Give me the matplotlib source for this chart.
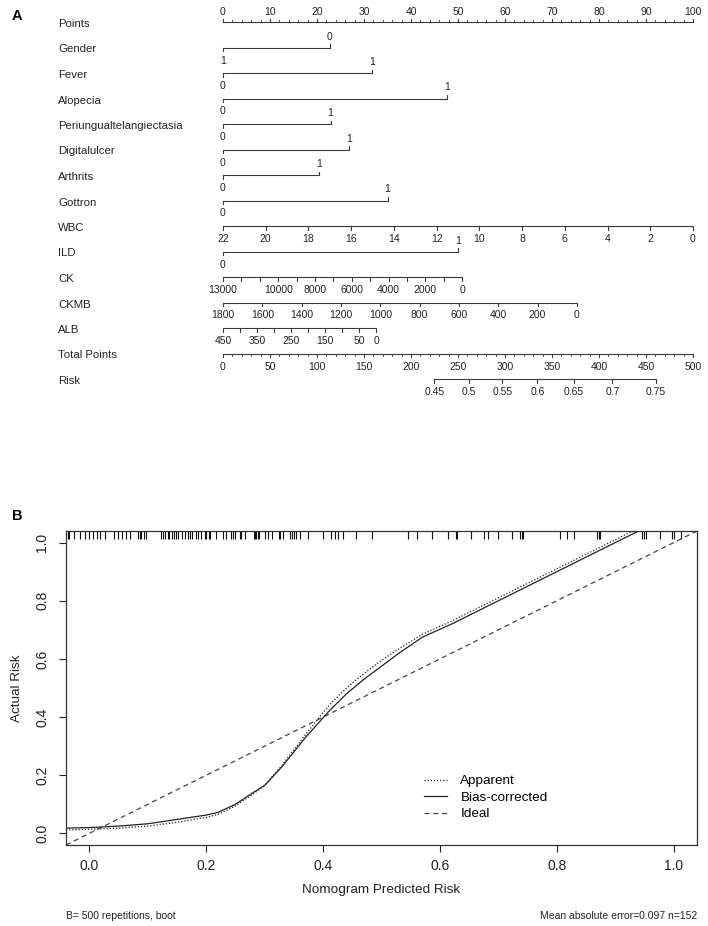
import numpy as np
import matplotlib
matplotlib.use("Agg")
from matplotlib import pyplot as plt
from matplotlib.transforms import blended_transform_factory

plt.rcParams['font.family'] = ['Liberation Sans', 'DejaVu Sans']

# ---------------- nomogram data (A) ----------------
point_ticks = np.arange(0, 101, 10)
point_minor = np.arange(0, 101, 2)

# binary predictors: (name, left level, right level, points of right level)
binary_vars = [
    ("Gender", "1", "0", 22.7),
    ("Fever", "0", "1", 31.8),
    ("Alopecia", "0", "1", 47.6),
    ("Periungualtelangiectasia", "0", "1", 22.9),
    ("Digitalulcer", "0", "1", 26.8),
    ("Arthrits", "0", "1", 20.4),
    ("Gottron", "0", "1", 35.0),
]

wbc_ticks = np.arange(22, -1, -2)
wbc_range = [22, 0]          # value giving 0 points, value giving max points
wbc_max_points = 100.0

ild_points = 50.1

ck_ticks = np.arange(13000, -1, -1000)
ck_labels = [13000, 10000, 8000, 6000, 4000, 2000, 0]
ck_range = [13000, 0]
ck_max_points = 50.9

ckmb_ticks = np.arange(1800, -1, -200)
ckmb_range = [1800, 0]
ckmb_max_points = 75.3

alb_ticks = np.arange(450, -1, -50)
alb_labels = [450, 350, 250, 150, 50, 0]
alb_range = [450, 0]
alb_max_points = 32.6

total_ticks = np.arange(0, 501, 50)
total_minor = np.arange(0, 501, 10)

risk_ticks = [0.45, 0.5, 0.55, 0.6, 0.65, 0.7, 0.75]
risk_total_points = [224.8, 261.7, 297.1, 334.4, 373.4, 414.2, 460.3]

# ---------------- calibration data (B) ----------------
bias_x = [-0.04, 0.00, 0.05, 0.10, 0.15, 0.20, 0.22, 0.25, 0.28, 0.30, 0.33, 0.37,
          0.41, 0.44, 0.47, 0.50, 0.53, 0.57, 0.62, 0.69, 0.75, 0.81, 0.87, 0.94]
bias_y = [0.018, 0.020, 0.025, 0.033, 0.048, 0.063, 0.072, 0.10, 0.14, 0.165, 0.23, 0.33,
          0.42, 0.48, 0.53, 0.575, 0.62, 0.675, 0.72, 0.79, 0.85, 0.91, 0.97, 1.04]
app_x = [-0.04, 0.00, 0.05, 0.10, 0.15, 0.20, 0.22, 0.25, 0.28, 0.30, 0.33, 0.37,
         0.41, 0.44, 0.47, 0.50, 0.53, 0.57, 0.62, 0.69, 0.75, 0.81, 0.87, 0.93]
app_y = [0.012, 0.014, 0.018, 0.025, 0.038, 0.055, 0.065, 0.095, 0.135, 0.165, 0.235, 0.34,
         0.44, 0.50, 0.55, 0.595, 0.635, 0.685, 0.73, 0.80, 0.86, 0.92, 0.98, 1.04]
ideal_x = [-0.04, 1.04]

rug = [-0.037, -0.035, -0.026, -0.016, -0.007, 0.0, 0.006, 0.013, 0.018, 0.027,
       0.042, 0.049, 0.056, 0.063, 0.070, 0.083, 0.086, 0.089, 0.094, 0.097,
       0.123, 0.126, 0.130, 0.134, 0.137, 0.141, 0.144, 0.149, 0.151, 0.158,
       0.163, 0.169, 0.173, 0.176, 0.183, 0.186, 0.191, 0.198, 0.200, 0.204,
       0.206, 0.216, 0.229, 0.233, 0.243, 0.246, 0.250, 0.257, 0.260, 0.267,
       0.282, 0.284, 0.286, 0.289, 0.291, 0.301, 0.306, 0.313, 0.325, 0.327,
       0.331, 0.343, 0.347, 0.351, 0.354, 0.360, 0.374, 0.400, 0.414, 0.420,
       0.425, 0.434, 0.457, 0.483, 0.546, 0.560, 0.586, 0.614, 0.628, 0.630,
       0.653, 0.676, 0.683, 0.700, 0.723, 0.737, 0.740, 0.743, 0.806, 0.817,
       0.829, 0.869, 0.872, 0.874, 0.946, 0.949, 0.952, 0.977, 0.997, 1.000,
       1.012]

W, H = 708, 926
fig = plt.figure(figsize=(W / 100, H / 100), dpi=100)

# nomogram axes: x in "points", y in pixel rows
PX_PER_PT = 4.7
X0 = 223
top_h = 460
ax = fig.add_axes([0, 1 - top_h / H, 1, top_h / H])
ax.set_xlim(-X0 / PX_PER_PT, (W - X0) / PX_PER_PT)
ax.set_ylim(top_h, 0)
ax.axis('off')

lc = '#3a3a3a'
name_fs = 8.2
tick_fs = 7.5
row0, row_step = 22, 25.5
name_x = (58 - X0) / PX_PER_PT
up_off, down_off = 11, 13


def row_y(i):
    return row0 + row_step * i


def draw_axis(y, pts, labels, minor_pts=None, lab_pts=None):
    ax.plot([min(pts), max(pts)], [y, y], color=lc, lw=0.8, solid_capstyle='butt')
    for p in pts:
        ax.plot([p, p], [y, y + 3.5], color=lc, lw=0.8)
    if minor_pts is not None:
        for p in minor_pts:
            ax.plot([p, p], [y, y + 2], color=lc, lw=0.6)
    if lab_pts is None:
        lab_pts = pts
    for p, t in zip(lab_pts, labels):
        ax.text(p, y + down_off, t, fontsize=tick_fs,
                ha='center', va='center', color='#222222')


names = ["Points"] + [b[0] for b in binary_vars] + ["WBC", "ILD", "CK", "CKMB", "ALB",
                                                      "Total Points", "Risk"]
for i, n in enumerate(names):
    ax.text(name_x, row_y(i) + 2, n, fontsize=name_fs, ha='left', va='center',
            color='#222222')

# points scale
y = row_y(0)
ax.plot([0, 100], [y, y], color=lc, lw=0.8)
for p in point_minor:
    ax.plot([p, p], [y, y - 2], color=lc, lw=0.6)
for p in point_ticks:
    ax.plot([p, p], [y, y - 3.5], color=lc, lw=0.8)
    ax.text(p, y - up_off + 1, str(p), fontsize=tick_fs, ha='center', va='center',
            color='#222222')


def binary_row(y, left, right, pts):
    ax.plot([0, pts], [y, y], color=lc, lw=0.8)
    ax.plot([0, 0], [y, y + 3.5], color=lc, lw=0.8)
    ax.plot([pts, pts], [y, y - 3.5], color=lc, lw=0.8)
    ax.text(0, y + down_off, left, fontsize=tick_fs, ha='center', va='center', color='#222222')
    ax.text(pts, y - up_off, right, fontsize=tick_fs, ha='center', va='center', color='#222222')


for i, (n, left, right, pts) in enumerate(binary_vars):
    binary_row(row_y(i + 1), left, right, pts)


def lin(vals, rng, maxp):
    return np.interp(vals, sorted(rng), [maxp, 0] if rng[0] > rng[1] else [0, maxp])


# WBC
wp = lin(wbc_ticks, wbc_range, wbc_max_points)
draw_axis(row_y(8), wp, [str(v) for v in wbc_ticks])
# ILD
binary_row(row_y(9), "0", "1", ild_points)
# CK
cp = lin(ck_ticks, ck_range, ck_max_points)
draw_axis(row_y(10), cp, [str(v) for v in ck_labels],
          lab_pts=lin(ck_labels, ck_range, ck_max_points))
# CKMB
kp = lin(ckmb_ticks, ckmb_range, ckmb_max_points)
draw_axis(row_y(11), kp, [str(v) for v in ckmb_ticks])
# ALB
ap = lin(alb_ticks, alb_range, alb_max_points)
draw_axis(row_y(12), ap, [str(v) for v in alb_labels],
          lab_pts=lin(alb_labels, alb_range, alb_max_points))
# Total points (mapped onto the 0-100 points scale)
draw_axis(row_y(13), total_ticks / 5, [str(v) for v in total_ticks],
          minor_pts=total_minor / 5)
# Risk
draw_axis(row_y(14), np.array(risk_total_points) / 5, [f"{v:g}" for v in risk_ticks])

fig.text(12 / W, 1 - 16 / H, "A", fontsize=10.5, fontweight='bold', ha='left', va='center')

# ---------------- calibration plot (B) ----------------
L, R, T, B = 66, 697, 531, 845
bx = fig.add_axes([L / W, 1 - B / H, (R - L) / W, (B - T) / H])
bx.set_xlim(-0.04, 1.04)
bx.set_ylim(-0.04, 1.04)

bx.plot(ideal_x, ideal_x, color='#444444', lw=0.9, ls=(0, (4, 3)), label='Ideal')
bx.plot(bias_x, bias_y, color='#222222', lw=0.9, label='Bias-corrected')
bx.plot(app_x, app_y, color='#222222', lw=0.9, ls=(0, (1, 1.5)), label='Apparent')

trans = blended_transform_factory(bx.transData, bx.transAxes)
bx.vlines(rug, 1 - 8 / (B - T), 1, color='#111111', lw=0.8, transform=trans)

ticks = np.arange(0, 1.01, 0.2)
bx.set_xticks(ticks)
bx.set_yticks(ticks)
bx.set_xticklabels([f"{t:.1f}" for t in ticks])
bx.set_yticklabels([f"{t:.1f}" for t in ticks], rotation=90, va='center')
bx.tick_params(direction='out', length=5, width=0.8, labelsize=10, colors='#222222')
bx.tick_params(axis='x', pad=5)
bx.tick_params(axis='y', pad=7)
for s in bx.spines.values():
    s.set_linewidth(0.9)
    s.set_color('#333333')

bx.set_xlabel("Nomogram Predicted Risk", fontsize=9.7, labelpad=8, color='#222222')
bx.set_ylabel("Actual Risk", fontsize=9.7, labelpad=9, color='#222222')

handles, labels = bx.get_legend_handles_labels()
order = [2, 1, 0]
bx.legend([handles[i] for i in order], [labels[i] for i in order],
          loc='upper left', bbox_to_anchor=((424 - L) / (R - L), (B - 775) / (B - T)),
          frameon=False, fontsize=9.7, handlelength=1.7, handletextpad=1.0,
          labelspacing=0.3, borderpad=0, borderaxespad=0)

fig.text(12 / W, 1 - 516 / H, "B", fontsize=10.5, fontweight='bold', ha='left', va='center')
fig.text(L / W, 1 - 916 / H, "B= 500 repetitions, boot", fontsize=7.5, ha='left',
         va='center', color='#222222')
fig.text(R / W, 1 - 916 / H, "Mean absolute error=0.097 n=152", fontsize=7.5,
         ha='right', va='center', color='#222222')

fig.savefig("out.png", dpi=100)
